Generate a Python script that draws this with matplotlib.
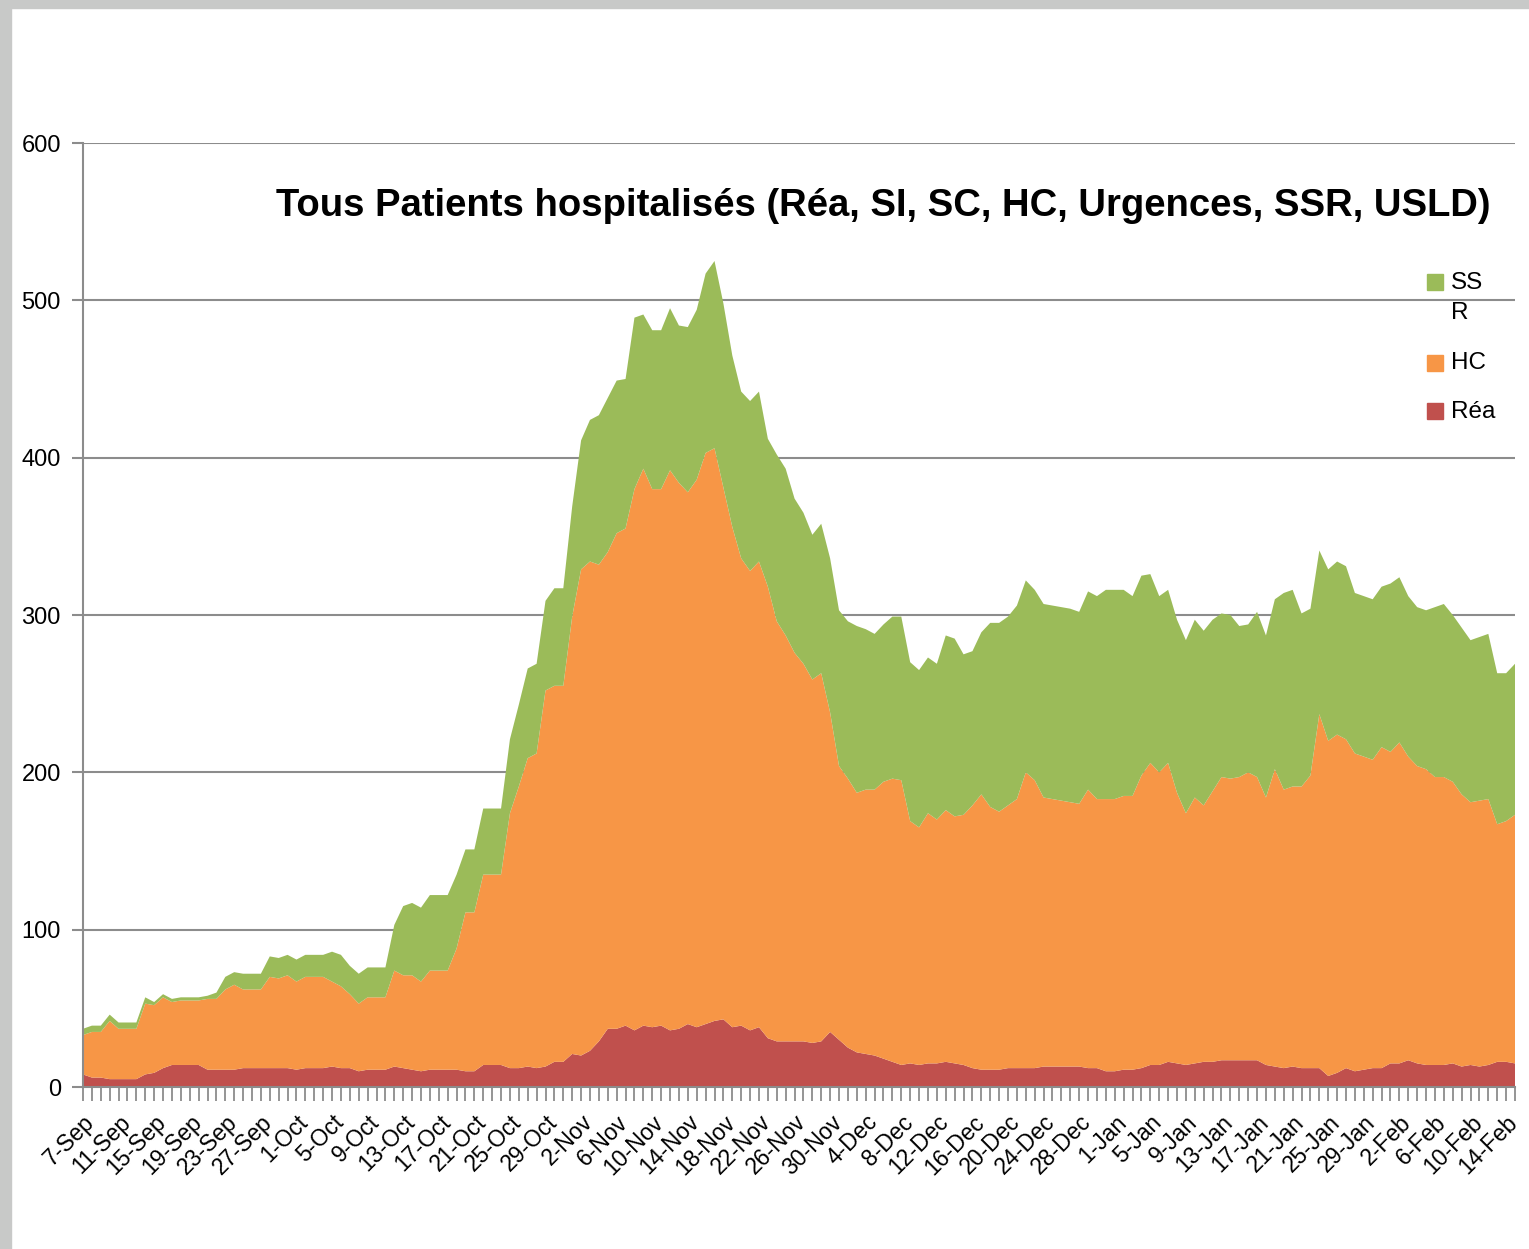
import matplotlib
matplotlib.use('Agg')
import matplotlib.pyplot as plt
from matplotlib.patches import Rectangle
import datetime as dt

plt.rcParams['font.family'] = ['Liberation Sans', 'DejaVu Sans']

# ---- data ----
start_date = dt.date(2020, 9, 7)
n_days = 162
dates = [start_date + dt.timedelta(days=k) for k in range(n_days)]
date_labels = [f"{d.day}-{d.strftime('%b')}" for d in dates]

rea = [8, 6, 6, 5, 5, 5, 5, 8, 9, 12, 14, 14, 14, 14, 11, 11, 11, 11, 12, 12,
       12, 12, 12, 12, 11, 12, 12, 12, 13, 12, 12, 10, 11, 11, 11, 13, 12, 11, 10, 11,
       11, 11, 11, 10, 10, 14, 14, 14, 12, 12, 13, 12, 13, 16, 16, 21, 20, 23, 29, 37,
       37, 39, 36, 39, 38, 39, 36, 37, 40, 38, 40, 42, 43, 38, 39, 36, 38, 31, 29, 29,
       29, 29, 28, 29, 35, 30, 25, 22, 21, 20, 18, 16, 14, 15, 14, 15, 15, 16, 15, 14,
       12, 11, 11, 11, 12, 12, 12, 12, 13, 13, 13, 13, 13, 12, 12, 10, 10, 11, 11, 12,
       14, 14, 16, 15, 14, 15, 16, 16, 17, 17, 17, 17, 17, 14, 13, 12, 13, 12, 12, 12,
       7, 9, 12, 10, 11, 12, 12, 15, 15, 17, 15, 14, 14, 14, 15, 13, 14, 13, 14, 16,
       16, 15]

hc = [25, 29, 29, 37, 32, 32, 32, 45, 43, 45, 40, 41, 41, 41, 45, 45, 51, 54, 50, 50,
      50, 58, 57, 59, 56, 58, 58, 58, 54, 52, 47, 43, 46, 46, 46, 61, 59, 60, 57, 63,
      63, 63, 77, 101, 101, 121, 121, 121, 162, 179, 196, 200, 239, 239, 239, 278, 309, 311, 303, 303,
      315, 316, 344, 354, 342, 341, 356, 347, 338, 348, 363, 364, 338, 318, 297, 292, 296, 287, 267, 258,
      247, 240, 231, 234, 203, 174, 171, 165, 168, 169, 176, 180, 181, 154, 151, 159, 155, 160, 157, 159,
      167, 175, 167, 164, 167, 171, 188, 183, 171, 170, 169, 168, 167, 177, 171, 173, 173, 174, 174, 186,
      192, 186, 190, 172, 160, 169, 163, 172, 180, 179, 180, 183, 180, 170, 189, 177, 178, 179, 186, 225,
      213, 215, 209, 202, 199, 196, 204, 198, 204, 193, 189, 188, 183, 183, 179, 173, 167, 169, 169, 151,
      153, 158]

ssr = [4, 4, 4, 4, 4, 4, 4, 4, 2, 2, 2, 2, 2, 2, 2, 4, 8, 8, 10, 10,
       10, 13, 13, 13, 14, 14, 14, 14, 19, 20, 18, 19, 19, 19, 19, 29, 44, 46, 47, 48,
       48, 48, 47, 40, 40, 42, 42, 42, 47, 52, 57, 57, 57, 62, 62, 70, 82, 90, 95, 98,
       97, 95, 109, 98, 101, 101, 103, 100, 105, 108, 114, 119, 117, 109, 106, 108, 108, 94, 106, 106,
       98, 96, 92, 95, 98, 99, 100, 106, 102, 99, 100, 103, 104, 101, 100, 99, 99, 111, 113, 102,
       98, 103, 117, 120, 120, 123, 122, 121, 123, 123, 123, 123, 122, 126, 129, 133, 133, 131, 127, 127,
       120, 112, 110, 110, 110, 113, 111, 109, 104, 104, 96, 94, 105, 103, 108, 125, 125, 110, 106, 104,
       109, 110, 110, 102, 102, 102, 102, 107, 105, 102, 101, 101, 108, 110, 106, 106, 103, 104, 105, 96,
       94, 96]

series_names = ['Réa', 'HC', 'SS\nR']
colors = ['#C0504D', '#F79646', '#9BBB59']
title = 'Tous Patients hospitalisés (Réa, SI, SC, HC, Urgences, SSR, USLD)'
y_ticks = [0, 100, 200, 300, 400, 500, 600]

# ---- figure ----
W, H = 1529, 1249
fig = plt.figure(figsize=(W / 100, H / 100), dpi=100)
fig.patch.set_facecolor('white')
# grey frame strips (top & left)
fig.patches.append(Rectangle((0, 1 - 8 / H), 1, 8 / H, transform=fig.transFigure,
                             color='#c8c9c8', zorder=0))
fig.patches.append(Rectangle((0, 0), 11 / W, 1, transform=fig.transFigure,
                             color='#c8c9c8', zorder=0))

ax = fig.add_axes([83 / W, 1 - 1087 / H, (1515 - 83) / W, (1087 - 143) / H])
x = list(range(n_days))
ax.stackplot(x, rea, hc, ssr, colors=colors, linewidth=0)

ax.set_xlim(0, n_days - 1)
ax.set_ylim(0, 600)
ax.set_axisbelow(True)
ax.yaxis.grid(True, color='#8c8c8c', linewidth=1.5)
ax.set_yticks(y_ticks)
ax.set_yticklabels([str(v) for v in y_ticks], fontsize=17)
ax.set_xticks(x)
ax.set_xticklabels([lab if k % 4 == 0 else '' for k, lab in enumerate(date_labels)],
                   rotation=45, ha='right', rotation_mode='anchor', fontsize=16.5)
ax.tick_params(axis='x', length=10, width=1.3, color='#8c8c8c', pad=7)
ax.tick_params(axis='y', length=8, width=1.5, color='#8c8c8c', pad=8)
for s in ['top', 'right']:
    ax.spines[s].set_visible(False)
for s in ['left', 'bottom']:
    ax.spines[s].set_color('#8c8c8c')
    ax.spines[s].set_linewidth(1.5)

fig.text(1490 / W, 1 - 206 / H, title, ha='right', va='center',
         fontsize=27.5, fontweight='bold')

# legend (manual, top to bottom: SSR, HC, Réa)
leg_items = [(series_names[2], colors[2], 282, [283, 313]),
             (series_names[1], colors[1], 363, [363]),
             (series_names[0], colors[0], 411, [412])]
for name, col, yc, ylines in leg_items:
    fig.patches.append(Rectangle((1427 / W, 1 - (yc + 8) / H), 16 / W, 16 / H,
                                 transform=fig.transFigure, color=col, zorder=3))
    for part, yl in zip(name.split('\n'), ylines):
        fig.text(1451 / W, 1 - yl / H, part, ha='left', va='center', fontsize=17.5)

fig.savefig('out.png', dpi=100, facecolor=fig.get_facecolor())
